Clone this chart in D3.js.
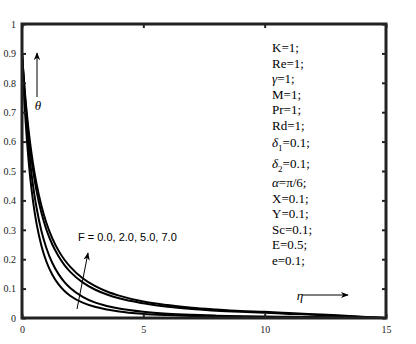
<!DOCTYPE html>
<html><head><meta charset="utf-8">
<script src="https://cdn.jsdelivr.net/npm/d3@7"></script>
<style>body{margin:0;background:#fff}svg{display:block}</style>
</head><body>
<svg id="c" width="416" height="344"></svg>
<script>
const eta = [0,0.1,0.2,0.3,0.4,0.5,0.6,0.8,1.0,1.25,1.5,1.75,2,2.5,3,3.5,4,5,6,7,8,9,10,11,12,13,14,15];
const thetaF0 = [0.9,0.734,0.608,0.510,0.433,0.371,0.321,0.246,0.193,0.147,0.115,0.092,0.075,0.052,0.038,0.029,0.022,0.014,0.0098,0.0071,0.0053,0.004,0.0031,0.0024,0.0018,0.0012,0.0006,0];
const thetaF2 = [0.9,0.760,0.649,0.559,0.485,0.425,0.375,0.296,0.239,0.187,0.150,0.122,0.101,0.072,0.053,0.041,0.032,0.021,0.0146,0.0107,0.008,0.0062,0.005,0.0039,0.003,0.002,0.001,0];
const thetaF5 = [0.9,0.777,0.679,0.600,0.534,0.479,0.432,0.358,0.302,0.250,0.211,0.180,0.156,0.121,0.097,0.080,0.067,0.050,0.038,0.031,0.025,0.021,0.018,0.014,0.011,0.007,0.0035,0];
const thetaF7 = [0.9,0.787,0.695,0.619,0.556,0.502,0.456,0.382,0.325,0.271,0.230,0.198,0.173,0.135,0.109,0.090,0.076,0.056,0.044,0.035,0.029,0.024,0.021,0.017,0.013,0.009,0.004,0];
const series = [thetaF0, thetaF2, thetaF5, thetaF7];
const xTicks = [0,5,10,15];
const yTicks = [0,0.1,0.2,0.3,0.4,0.5,0.6,0.7,0.8,0.9,1];
const params = ["K=1;","Re=1;","γ=1;","M=1;","Pr=1;","Rd=1;","δ1=0.1;","δ2=0.1;","α=π/6;","X=0.1;","Y=0.1;","Sc=0.1;","E=0.5;","e=0.1;"];
const fLabel = "F = 0.0, 2.0, 5.0, 7.0";

const svg = d3.select("#c");
const L=22, T=24, R=386, B=318;
const x = d3.scaleLinear().domain([0,15]).range([L,R]);
const y = d3.scaleLinear().domain([0,1]).range([B,T]);

const defs = svg.append("defs");
defs.append("marker").attr("id","ah").attr("viewBox","0 0 10 10").attr("refX",9).attr("refY",5)
  .attr("markerWidth",8).attr("markerHeight",8).attr("orient","auto").attr("markerUnits","userSpaceOnUse")
  .append("path").attr("d","M0,1 L10,5 L0,9 L3,5 Z").attr("fill","#000");
defs.append("clipPath").attr("id","clip").append("rect").attr("x",L).attr("y",T).attr("width",R-L).attr("height",B-T);

// curves
const line = d3.line().x((d,i)=>x(eta[i])).y(d=>y(d)).curve(d3.curveMonotoneX);
svg.append("g").attr("clip-path","url(#clip)").selectAll("path").data(series).join("path")
  .attr("d",line).attr("fill","none").attr("stroke","#000").attr("stroke-width",2);

// axes
const tickStyle = g=>{g.select(".domain").remove(); g.selectAll("line").attr("stroke","#222").attr("stroke-width",2);
  g.selectAll("text").attr("font-family","'Liberation Serif','Times New Roman',serif").attr("font-size",10).attr("fill","#222");};
svg.append("g").attr("transform",`translate(0,${B})`).call(d3.axisBottom(x).tickValues(xTicks).tickSize(-4).tickPadding(8).tickFormat(d3.format("d"))).call(tickStyle);
svg.append("g").attr("transform",`translate(0,${T})`).call(d3.axisTop(x).tickValues(xTicks).tickSize(-4).tickFormat("")).call(tickStyle);
svg.append("g").attr("transform",`translate(${L},0)`).call(d3.axisLeft(y).tickValues(yTicks).tickSize(-4).tickPadding(6).tickFormat(d=>d===0||d===1?String(d):d3.format(".1f")(d))).call(tickStyle);
svg.append("g").attr("transform",`translate(${R},0)`).call(d3.axisRight(y).tickValues(yTicks).tickSize(-4).tickFormat("")).call(tickStyle);

svg.append("rect").attr("x",L).attr("y",T).attr("width",R-L).attr("height",B-T)
  .attr("fill","none").attr("stroke","#222").attr("stroke-width",3);

// theta arrow
svg.append("line").attr("x1",37).attr("y1",97).attr("x2",37).attr("y2",53).attr("stroke","#000").attr("stroke-width",1).attr("marker-end","url(#ah)");
svg.append("text").attr("x",38).attr("y",110).attr("text-anchor","middle").attr("font-family","'Liberation Serif',serif").attr("font-style","italic").attr("font-size",13).text("θ");

// eta arrow
svg.append("line").attr("x1",302).attr("y1",295).attr("x2",348).attr("y2",295).attr("stroke","#000").attr("stroke-width",1).attr("marker-end","url(#ah)");
svg.append("text").attr("x",300).attr("y",300).attr("text-anchor","middle").attr("font-family","'Liberation Serif',serif").attr("font-style","italic").attr("font-size",13).text("η");

// F arrow
svg.append("line").attr("x1",77).attr("y1",309).attr("x2",88).attr("y2",253).attr("stroke","#000").attr("stroke-width",1).attr("marker-end","url(#ah)");
svg.append("text").attr("x",78).attr("y",241).attr("font-family","'Liberation Sans',Arial,sans-serif").attr("font-size",11).text(fLabel);

// params
const pg = svg.append("g").attr("font-family","'Liberation Serif','Times New Roman',serif").attr("font-size",13).attr("fill","#000");
let yy = 52;
params.forEach((p,i)=>{
  if (i===6) yy += 2;
  if (i===7) yy += 5;
  if (i===8) yy += 4;
  const t = pg.append("text").attr("x",272).attr("y",yy);
  const m = p.match(/^([^0-9=]+)([12])(=.*)$/);
  if (p.startsWith("δ") && m) {
    t.append("tspan").attr("font-style","italic").text(m[1]);
    t.append("tspan").attr("dy",4).attr("font-size",9).text(m[2]);
    t.append("tspan").attr("dy",-4).text(m[3]);
  } else if (p.startsWith("γ")||p.startsWith("α")) {
    t.append("tspan").attr("font-style","italic").text(p[0]);
    t.append("tspan").text(p.slice(1));
  } else t.text(p);
  yy += 15.5;
});
</script>
</body></html>
